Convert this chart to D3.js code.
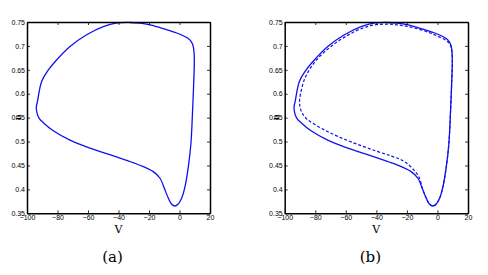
<!DOCTYPE html>
<html>
<head>
<meta charset="utf-8">
<script src="https://cdn.jsdelivr.net/npm/d3@7"></script>
<style>
  body { margin: 0; background: #fff; }
  svg { display: block; }
  .tick text { font-family: "Liberation Sans", Arial, sans-serif; font-size: 7px; fill: #000; }
</style>
</head>
<body>
<div id="chart"></div>
<script>
// tick values
const xTicks = [-100, -80, -60, -40, -20, 0, 20];
const yTicks = [0.35, 0.4, 0.45, 0.5, 0.55, 0.6, 0.65, 0.7, 0.75];
const yTickLabels = ["0.35", "0.4", "0.45", "0.5", "0.55", "0.6", "0.65", "0.7", "0.75"];

// limit cycle (solid), V then n, going round once
const solidV = [8.6, 9.2, 9.7, 9.6, 9.0, 7.8, 5.5, -1.8, -10, -19.3, -26, -32.5, -41, -50, -60.9,
  -71.8, -81.5, -86.3, -90.4, -93.2, -93.9, -93.3, -91.8, -89.3, -82.75, -71.8, -60.9, -50, -39,
  -30, -23.7, -17.2, -12.8, -9.5, -7.3, -5.1, -3, -1, 1.4, 3.6, 5.8, 7.5];
const solidN = [0.566, 0.613, 0.66, 0.684, 0.699, 0.7085, 0.716, 0.727, 0.7355, 0.7438, 0.7475, 0.749, 0.748, 0.7405, 0.7234,
  0.6989, 0.6675, 0.6484, 0.6256, 0.583, 0.572, 0.558, 0.5475, 0.5395, 0.5225, 0.503, 0.489, 0.477, 0.4655,
  0.4555, 0.4476, 0.4371, 0.4233, 0.3985, 0.3814, 0.3688, 0.3653, 0.3688, 0.3814, 0.4057, 0.4476, 0.4966];

// second cycle (dashed) for panel b
const dashV = [8.6, 9.2, 9.7, 9.6, 9.0, 7.8, 5.5, -1.8, -10, -19.3, -26, -32.5, -41, -50, -60,
  -70, -78, -83.5, -87.3, -89.6, -90.3, -89.8, -88.3, -85.5, -80.5, -72, -61, -50, -39,
  -30, -23.5, -18.5, -14.75, -12.2, -9.5, -7.3, -5.1, -3, -1, 1.4, 3.6, 5.8, 7.5];
const dashN = [0.566, 0.613, 0.66, 0.683, 0.697, 0.705, 0.712, 0.723, 0.733, 0.7405, 0.744, 0.7455, 0.744, 0.736, 0.72,
  0.698, 0.675, 0.652, 0.628, 0.6, 0.584, 0.57, 0.558, 0.547, 0.536, 0.521, 0.505, 0.4915, 0.479,
  0.4695, 0.4615, 0.4505, 0.438, 0.4265, 0.3985, 0.3814, 0.3688, 0.3653, 0.3688, 0.3814, 0.4057, 0.4476, 0.4966];

const panels = [
  { left: 27, right: 210, label: "(a)", dashed: false },
  { left: 284.7, right: 468, label: "(b)", dashed: true }
];
const plotTop = 22, plotBottom = 213.3;

const svg = d3.select("#chart")
  .append("svg")
  .attr("width", 488)
  .attr("height", 275);

const solid = d3.zip(solidV, solidN);
const dashed = d3.zip(dashV, dashN);

panels.forEach(p => {
  const x = d3.scaleLinear().domain([-100, 20]).range([p.left, p.right]);
  const y = d3.scaleLinear().domain([0.35, 0.75]).range([plotBottom, plotTop]);

  const line = d3.line()
    .x(d => x(d[0]))
    .y(d => y(d[1]))
    .curve(d3.curveCatmullRomClosed.alpha(0.5));

  const g = svg.append("g");

  g.append("path")
    .datum(solid)
    .attr("d", line)
    .attr("fill", "none")
    .attr("stroke", "#1010f0")
    .attr("stroke-width", 1.3);

  if (p.dashed) {
    g.append("path")
      .datum(dashed)
      .attr("d", line)
      .attr("fill", "none")
      .attr("stroke", "#1010f0")
      .attr("stroke-width", 1.2)
      .attr("stroke-dasharray", "3,2");
  }

  // frame with inward ticks
  g.append("g")
    .attr("transform", `translate(0,${plotBottom})`)
    .call(d3.axisBottom(x).tickValues(xTicks).tickSizeInner(-3).tickSizeOuter(0).tickPadding(2));
  g.append("g")
    .attr("transform", `translate(0,${plotTop})`)
    .call(d3.axisTop(x).tickValues(xTicks).tickSizeInner(-3).tickSizeOuter(0).tickFormat(""));
  g.append("g")
    .attr("transform", `translate(${p.left},0)`)
    .call(d3.axisLeft(y).tickValues(yTicks).tickSizeInner(-3).tickSizeOuter(0).tickPadding(2)
      .tickFormat((d, i) => yTickLabels[i]));
  g.append("g")
    .attr("transform", `translate(${p.right},0)`)
    .call(d3.axisRight(y).tickValues(yTicks).tickSizeInner(-3).tickSizeOuter(0).tickFormat(""));

  g.selectAll(".domain").attr("stroke", "#000").attr("stroke-width", 1.5);
  g.selectAll(".tick line").attr("stroke", "#000").attr("stroke-width", 0.8);

  const cx = (p.left + p.right) / 2;
  g.append("text")
    .attr("x", cx)
    .attr("y", 233)
    .attr("text-anchor", "middle")
    .style("font-family", "'DejaVu Serif', 'Liberation Serif', serif")
    .style("font-size", "11px")
    .text("V");

  g.append("text")
    .attr("transform", `translate(${p.left - 6},117) rotate(-90)`)
    .attr("text-anchor", "middle")
    .style("font-family", "'DejaVu Serif', 'Liberation Serif', serif")
    .style("font-size", "9px")
    .text("n");

  g.append("text")
    .attr("x", cx - 6)
    .attr("y", 262)
    .attr("text-anchor", "middle")
    .style("font-family", "'DejaVu Serif', 'Liberation Serif', serif")
    .style("font-size", "15px")
    .text(p.label);
});
</script>
</body>
</html>
